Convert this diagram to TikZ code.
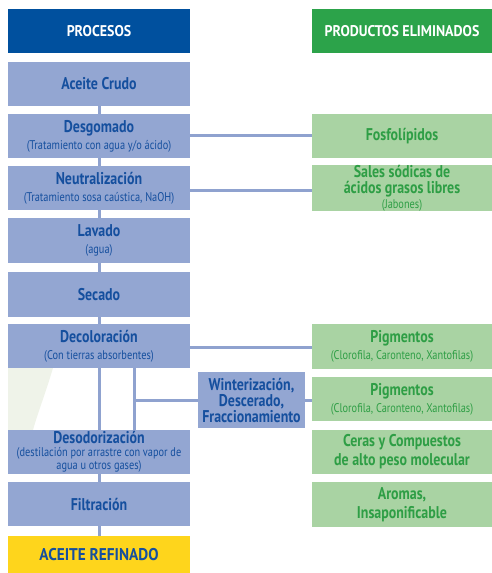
\documentclass[tikz,border=0pt]{standalone}
\usepackage{fontspec}
\setmainfont[FakeStretch=0.82]{PT Sans}
\newfontfamily\headfont[FakeStretch=0.9]{PT Sans}
\definecolor{procfill}{HTML}{93A6D2}
\definecolor{proctext}{HTML}{154F9E}
\definecolor{prodfill}{HTML}{A9D3A3}
\definecolor{prodtext}{HTML}{2E9E45}
\definecolor{headblue}{HTML}{00509E}
\definecolor{headgreen}{HTML}{2CA34A}
\definecolor{refyellow}{HTML}{FED51C}
\definecolor{linkc}{HTML}{8FA2CF}
\definecolor{leaf}{HTML}{EFF3E9}
\tikzset{
  box/.style={rectangle, inner sep=0pt, align=center, minimum height=44pt},
  proc/.style={box, fill=procfill, text=proctext, minimum width=182pt, font=\fontsize{17}{17}\selectfont\bfseries},
  prod/.style={box, fill=prodfill, text=prodtext, minimum width=180pt, font=\fontsize{17}{17}\selectfont\bfseries},
  head/.style={box, text=white, font=\headfont\fontsize{15.5}{16}\selectfont\bfseries},
  link/.style={draw=linkc, line width=3pt},
}
\newcommand{\subt}[1]{{\fontsize{12.6}{13}\selectfont\mdseries #1}}
\begin{document}
\begin{tikzpicture}[x=1pt,y=-1pt]
\useasboundingbox (0,0) rectangle (492,573);
\fill[leaf] (8,368) -- (53,368) .. controls (45,395) and (38,412) .. (33,430) -- (8,430) -- cycle;
% process column
\node[head, fill=headblue, minimum width=182pt] (ph) at (99,31) {PROCESOS};
\node[proc] (crudo) at (99,84) {Aceite Crudo};
\node[proc] (desg) at (99,136) {Desgomado\\[0pt]\subt{(Tratamiento con agua y/o ácido)}};
\node[proc] (neut) at (99,188) {Neutralización\\[0pt]\subt{(Tratamiento sosa caústica, NaOH)}};
\node[proc, minimum height=45pt] (lav) at (99,240.5) {Lavado\\[0pt]\subt{(agua)}};
\node[proc, minimum height=45pt] (sec) at (99,294.5) {Secado};
\node[proc] (decol) at (99,346) {Decoloración\\[0pt]\subt{(Con tierras absorbentes)}};
\node[proc] (desod) at (99,452) {Desodorización\\[-4pt]\subt{(destilación por arrastre con vapor de}\\[-3.5pt]\subt{agua u otros gases)}};
\node[proc] (filt) at (99,504) {Filtración};
\node[proc, fill=refyellow, minimum height=38pt, font=\headfont\fontsize{17}{17}\selectfont\bfseries] (refin) at (99,555) {ACEITE REFINADO};
\node[proc, minimum width=107pt, minimum height=56pt, font=\fontsize{17}{16}\selectfont\bfseries] (wint) at (251.5,400) {Winterización,\\Descerado,\\Fraccionamiento};
% products column
\node[head, fill=headgreen, minimum width=180pt] (prh) at (402,31) {PRODUCTOS ELIMINADOS};
\node[prod] (fosfo) at (402,136) {Fosfolípidos};
\node[prod] (sales) at (402,188) {Sales sódicas de\\[-1pt]ácidos grasos libres\\[-2pt]\subt{(Jabones)}};
\node[prod, minimum height=45pt] (pig1) at (402,346.5) {Pigmentos\\[0pt]\subt{(Clorofila, Caronteno, Xantofilas)}};
\node[prod] (pig2) at (402,399) {Pigmentos\\[0pt]\subt{(Clorofila, Caronteno, Xantofilas)}};
\node[prod] (ceras) at (402,452) {Ceras y Compuestos\\[2pt]de alto peso molecular};
\node[prod, minimum height=45pt] (arom) at (402,504.5) {Aromas,\\[2pt]Insaponificable};
% connectors
\coordinate (split) at (134,400);
\draw[link] (crudo.south) -- (desg.north);
\draw[link] (desg.south) -- (neut.north);
\draw[link] (neut.south) -- (lav.north);
\draw[link] (lav.south) -- (sec.north);
\draw[link] (sec.south) -- (decol.north);
\draw[link] (decol.south) -- (desod.north);
\draw[link] (desod.south) -- (filt.north);
\draw[link] (filt.south) -- (refin.north);
\draw[link] (desg.east |- 0,135) -- (fosfo.west |- 0,135);
\draw[link] (neut.east |- 0,190) -- (sales.west |- 0,190);
\draw[link] (decol.east |- 0,347) -- (pig1.west |- 0,347);
\draw[link] (decol.south -| split) -- (desod.north -| split);
\draw[link] (split) -- (wint.west);
\draw[link] (wint.east) -- (pig2.west |- wint.east);
\end{tikzpicture}
\end{document}
